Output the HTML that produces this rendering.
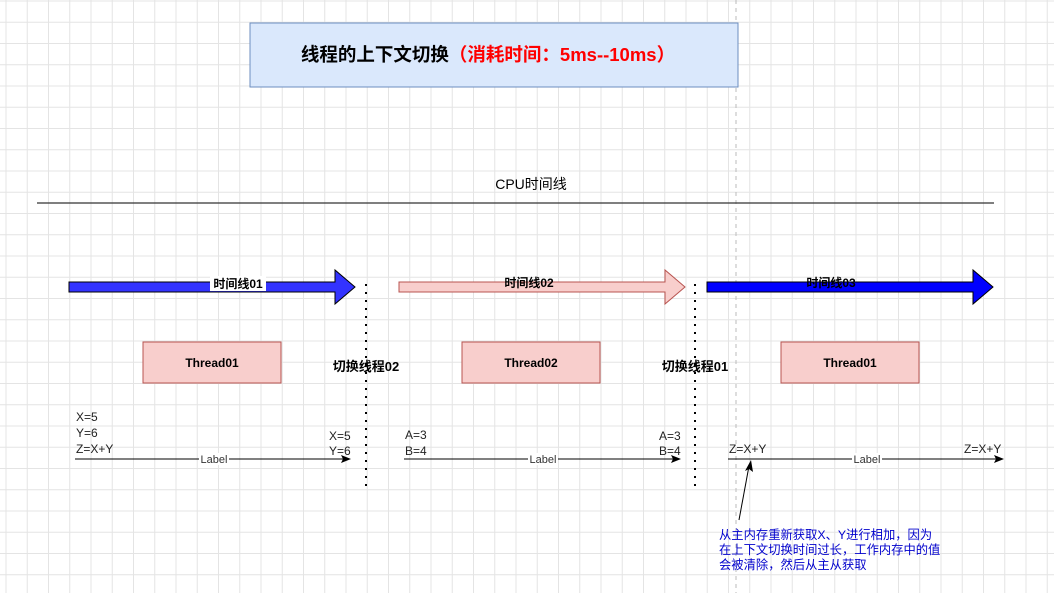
<!DOCTYPE html>
<html><head><meta charset="utf-8"><style>
html,body{margin:0;padding:0;}
body{width:1054px;height:593px;overflow:hidden;background:#fff;
background-image:linear-gradient(to right,#e4e4e4 1px,transparent 1px),linear-gradient(to bottom,#e4e4e4 1px,transparent 1px);
background-size:21.25px 21.25px;background-position:5.5px 0.5px;}
svg{position:absolute;left:0;top:0;}
text{font-family:"Liberation Sans","Noto Sans CJK SC",sans-serif;}
</style></head><body>
<svg width="1054" height="593" viewBox="0 0 1054 593">
<line x1="736" y1="0" x2="736" y2="593" stroke="#bbb" stroke-dasharray="4 4"/>
<rect x="250" y="23" width="488" height="64" fill="#dae8fc" stroke="#6c8ebf"/>
<text x="488" y="61" text-anchor="middle" font-size="18.5" font-weight="bold"><tspan fill="#000">线程的上下文切换</tspan><tspan fill="#ff0000">（消耗时间：5ms--10ms）</tspan></text>
<text x="531" y="189" text-anchor="middle" font-size="14">CPU时间线</text>
<line x1="37" y1="203" x2="994" y2="203" stroke="#333" stroke-width="1.2"/>
<polygon points="69,282 335,282 335,270 355,287 335,304 335,292 69,292" fill="#3333ff" stroke="#000" stroke-width="1"/>
<polygon points="399,282 665,282 665,270 685,287 665,304 665,292 399,292" fill="#f8cecc" stroke="#b85450" stroke-width="1"/>
<polygon points="707,282 973,282 973,270 993,287 973,304 973,292 707,292" fill="#0000ff" stroke="#000" stroke-width="1"/>
<rect x="210" y="276" width="56" height="15" fill="#fff"/>
<text x="238" y="288" text-anchor="middle" font-size="12" font-weight="bold">时间线01</text>
<text x="529" y="287" text-anchor="middle" font-size="12" font-weight="bold">时间线02</text>
<text x="831" y="287" text-anchor="middle" font-size="12" font-weight="bold">时间线03</text>
<line x1="366" y1="284" x2="366" y2="490" stroke="#000" stroke-width="2" stroke-dasharray="2 6"/>
<line x1="695" y1="284" x2="695" y2="490" stroke="#000" stroke-width="2" stroke-dasharray="2 6"/>
<rect x="143" y="342" width="138" height="41" fill="#f8cecc" stroke="#b85450"/>
<rect x="462" y="342" width="138" height="41" fill="#f8cecc" stroke="#b85450"/>
<rect x="781" y="342" width="138" height="41" fill="#f8cecc" stroke="#b85450"/>
<text x="212" y="367" text-anchor="middle" font-size="12" font-weight="bold">Thread01</text>
<text x="531" y="367" text-anchor="middle" font-size="12" font-weight="bold">Thread02</text>
<text x="850" y="367" text-anchor="middle" font-size="12" font-weight="bold">Thread01</text>
<text x="366" y="371" text-anchor="middle" font-size="13" font-weight="bold">切换线程02</text>
<text x="695" y="371" text-anchor="middle" font-size="13" font-weight="bold">切换线程01</text>
<g font-size="12" fill="#222">
<text x="76" y="421">X=5</text><text x="76" y="437">Y=6</text><text x="76" y="453">Z=X+Y</text>
<text x="329" y="440">X=5</text><text x="329" y="455">Y=6</text>
<text x="405" y="439">A=3</text><text x="405" y="455">B=4</text>
<text x="659" y="440">A=3</text><text x="659" y="455">B=4</text>
<text x="729" y="453">Z=X+Y</text><text x="964" y="453">Z=X+Y</text>
</g>
<g stroke="#000" stroke-width="1">
<line x1="75" y1="459" x2="344" y2="459"/><line x1="404" y1="459" x2="674" y2="459"/><line x1="728" y1="459" x2="998" y2="459"/>
<line x1="739" y1="520" x2="749" y2="466"/>
</g>
<g fill="#000">
<polygon points="351,459 341,455 343,459 341,463"/>
<polygon points="681,459 671,455 673,459 671,463"/>
<polygon points="1004,459 994,455 996,459 994,463"/>
<polygon points="751,460 745,471 749,469 753,472"/>
</g>
<g font-size="11" fill="#333">
<rect x="199" y="453" width="30" height="12" fill="#fff"/><text x="214" y="463" text-anchor="middle">Label</text>
<rect x="528" y="453" width="30" height="12" fill="#fff"/><text x="543" y="463" text-anchor="middle">Label</text>
<rect x="852" y="453" width="30" height="12" fill="#fff"/><text x="867" y="463" text-anchor="middle">Label</text>
</g>
<g font-size="12.3" fill="#0000cc">
<text x="719" y="539">从主内存重新获取X、Y进行相加，因为</text>
<text x="719" y="554">在上下文切换时间过长，工作内存中的值</text>
<text x="719" y="569">会被清除，然后从主从获取</text>
</g>
</svg>
</body></html>
